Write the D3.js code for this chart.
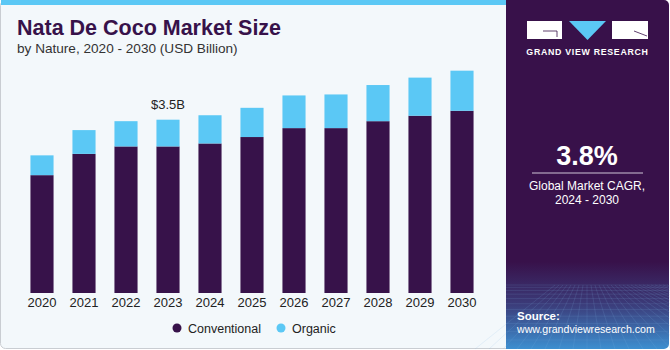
<!DOCTYPE html>
<html>
<head>
<meta charset="utf-8">
<script src="https://cdn.jsdelivr.net/npm/d3@7"></script>
<style>
  body { margin: 0; background: #fff; }
  svg { display: block; font-family: "Liberation Sans", Arial, sans-serif; }
</style>
</head>
<body>
<div id="chart"></div>
<script>
const years = ["2020", "2021", "2022", "2023", "2024", "2025", "2026", "2027", "2028", "2029", "2030"];
const conventional = [2.38, 2.81, 2.96, 2.96, 3.02, 3.15, 3.33, 3.33, 3.47, 3.58, 3.68];
const organic = [0.40, 0.48, 0.51, 0.54, 0.57, 0.59, 0.66, 0.68, 0.73, 0.77, 0.81];
const seriesNames = ["Conventional", "Organic"];
const colors = ["#37124a", "#5bc8f5"];

const W = 670, H = 350;
const svg = d3.select("#chart").append("svg").attr("width", W).attr("height", H);

// left panel
svg.append("rect").attr("x", 0.5).attr("y", 0.5).attr("width", 515).attr("height", 348)
  .attr("rx", 5).attr("fill", "#f3f8fb").attr("stroke", "#c9cdd2");
svg.append("rect").attr("x", 1).attr("y", 0).attr("width", 505).attr("height", 5).attr("fill", "#5bc8f5");

// right panel
const defs = svg.append("defs");
const grad = defs.append("linearGradient").attr("id", "rg").attr("x1", 0).attr("y1", 0).attr("x2", 0).attr("y2", 1);
grad.append("stop").attr("offset", "0.75").attr("stop-color", "#38114a");
grad.append("stop").attr("offset", "0.87").attr("stop-color", "#3b3a78");
grad.append("stop").attr("offset", "1").attr("stop-color", "#3d8fd0");
svg.append("rect").attr("x", 506).attr("y", 0).attr("width", 163).attr("height", 349)
  .attr("rx", 5).attr("fill", "url(#rg)");
svg.append("rect").attr("x", 506).attr("y", 0).attr("width", 10).attr("height", 349).attr("fill", "url(#rg)");

// grid texture at bottom of right panel
const gridG = svg.append("g").attr("stroke", "#7fb6e6").attr("stroke-opacity", 0.25).attr("stroke-width", 0.6).attr("fill", "none");
for (let i = 0; i < 14; i++) {
  const y = 285 + i * i * 0.35 + i * 2;
  if (y > 348) break;
  gridG.append("line").attr("x1", 506).attr("x2", 668).attr("y1", y).attr("y2", y);
}
for (let i = -8; i < 22; i++) {
  const x0 = 587 + i * 4, x1 = 587 + i * 14;
  gridG.append("line").attr("x1", x0).attr("y1", 285).attr("x2", x1).attr("y2", 349);
}

// logo
const logo = svg.append("g");
logo.append("rect").attr("x", 527).attr("y", 21).attr("width", 35).attr("height", 18).attr("fill", "#fff");
logo.append("path").attr("d", "M543,31 H557 V37").attr("stroke", "#38114a").attr("stroke-width", 0.8).attr("fill", "none");
logo.append("path").attr("d", "M569,21 L606,21 L587.5,40 Z").attr("fill", "#5bc8f5");
logo.append("rect").attr("x", 612).attr("y", 21).attr("width", 36).attr("height", 18).attr("fill", "#fff");
logo.append("path").attr("d", "M634,31 L647,36").attr("stroke", "#38114a").attr("stroke-width", 0.8);
logo.append("text").attr("x", 587.5).attr("y", 55).attr("text-anchor", "middle")
  .attr("fill", "#fff").attr("font-size", 8.8).attr("font-weight", "bold")
  .attr("letter-spacing", 0.7).text("GRAND VIEW RESEARCH");

// CAGR
svg.append("text").attr("x", 587).attr("y", 165).attr("text-anchor", "middle")
  .attr("fill", "#fff").attr("font-size", 27).attr("font-weight", "bold").text("3.8%");
svg.append("line").attr("x1", 532).attr("x2", 643).attr("y1", 173).attr("y2", 173)
  .attr("stroke", "#cfc6d6").attr("stroke-width", 1);
svg.append("text").attr("x", 587).attr("y", 190).attr("text-anchor", "middle")
  .attr("fill", "#fff").attr("font-size", 12).text("Global Market CAGR,");
svg.append("text").attr("x", 587).attr("y", 204).attr("text-anchor", "middle")
  .attr("fill", "#fff").attr("font-size", 12).text("2024 - 2030");

svg.append("text").attr("x", 517).attr("y", 320).attr("fill", "#fff")
  .attr("font-size", 11.5).attr("font-weight", "bold").text("Source:");
svg.append("text").attr("x", 517).attr("y", 333).attr("fill", "#fff")
  .attr("font-size", 10.6).text("www.grandviewresearch.com");

// titles
svg.append("text").attr("x", 17).attr("y", 35).attr("fill", "#37124a")
  .attr("font-size", 21.5).attr("font-weight", "bold").text("Nata De Coco Market Size");
svg.append("text").attr("x", 17).attr("y", 53).attr("fill", "#333")
  .attr("font-size", 13.6).text("by Nature, 2020 - 2030 (USD Billion)");

// chart
const data = years.map((y, i) => ({ year: y, Conventional: conventional[i], Organic: organic[i] }));
const stack = d3.stack().keys(seriesNames)(data);

const x = d3.scaleBand().domain(years).range([21, 483]).paddingInner(0.45).paddingOuter(0.225);
const y = d3.scaleLinear().domain([0, 3.5]).range([293, 119.7]);

const g = svg.append("g");
g.selectAll("g.layer")
  .data(stack)
  .enter().append("g")
  .attr("fill", (d, i) => colors[i])
  .selectAll("rect")
  .data(d => d)
  .enter().append("rect")
  .attr("x", d => x(d.data.year))
  .attr("y", d => y(d[1]))
  .attr("width", x.bandwidth())
  .attr("height", d => y(d[0]) - y(d[1]));

const xAxis = svg.append("g")
  .attr("transform", "translate(0,293)")
  .call(d3.axisBottom(x).tickSize(0).tickPadding(5));
xAxis.select(".domain").remove();
xAxis.selectAll("text").attr("font-size", 13).attr("fill", "#222")
  .attr("font-family", "Liberation Sans, Arial, sans-serif");

// annotation
const i23 = years.indexOf("2023");
svg.append("text")
  .attr("x", x("2023") + x.bandwidth() / 2)
  .attr("y", y(conventional[i23] + organic[i23]) - 11)
  .attr("text-anchor", "middle").attr("font-size", 13).attr("fill", "#222")
  .text("$3.5B");

// legend
const legend = svg.append("g");
const legendX = [177, 281];
seriesNames.forEach((name, i) => {
  legend.append("circle").attr("cx", legendX[i]).attr("cy", 328).attr("r", 4.5).attr("fill", colors[i]);
  legend.append("text").attr("x", legendX[i] + 11).attr("y", 332.5)
    .attr("font-size", 12.5).attr("fill", "#222").text(name);
});
</script>
</body>
</html>
